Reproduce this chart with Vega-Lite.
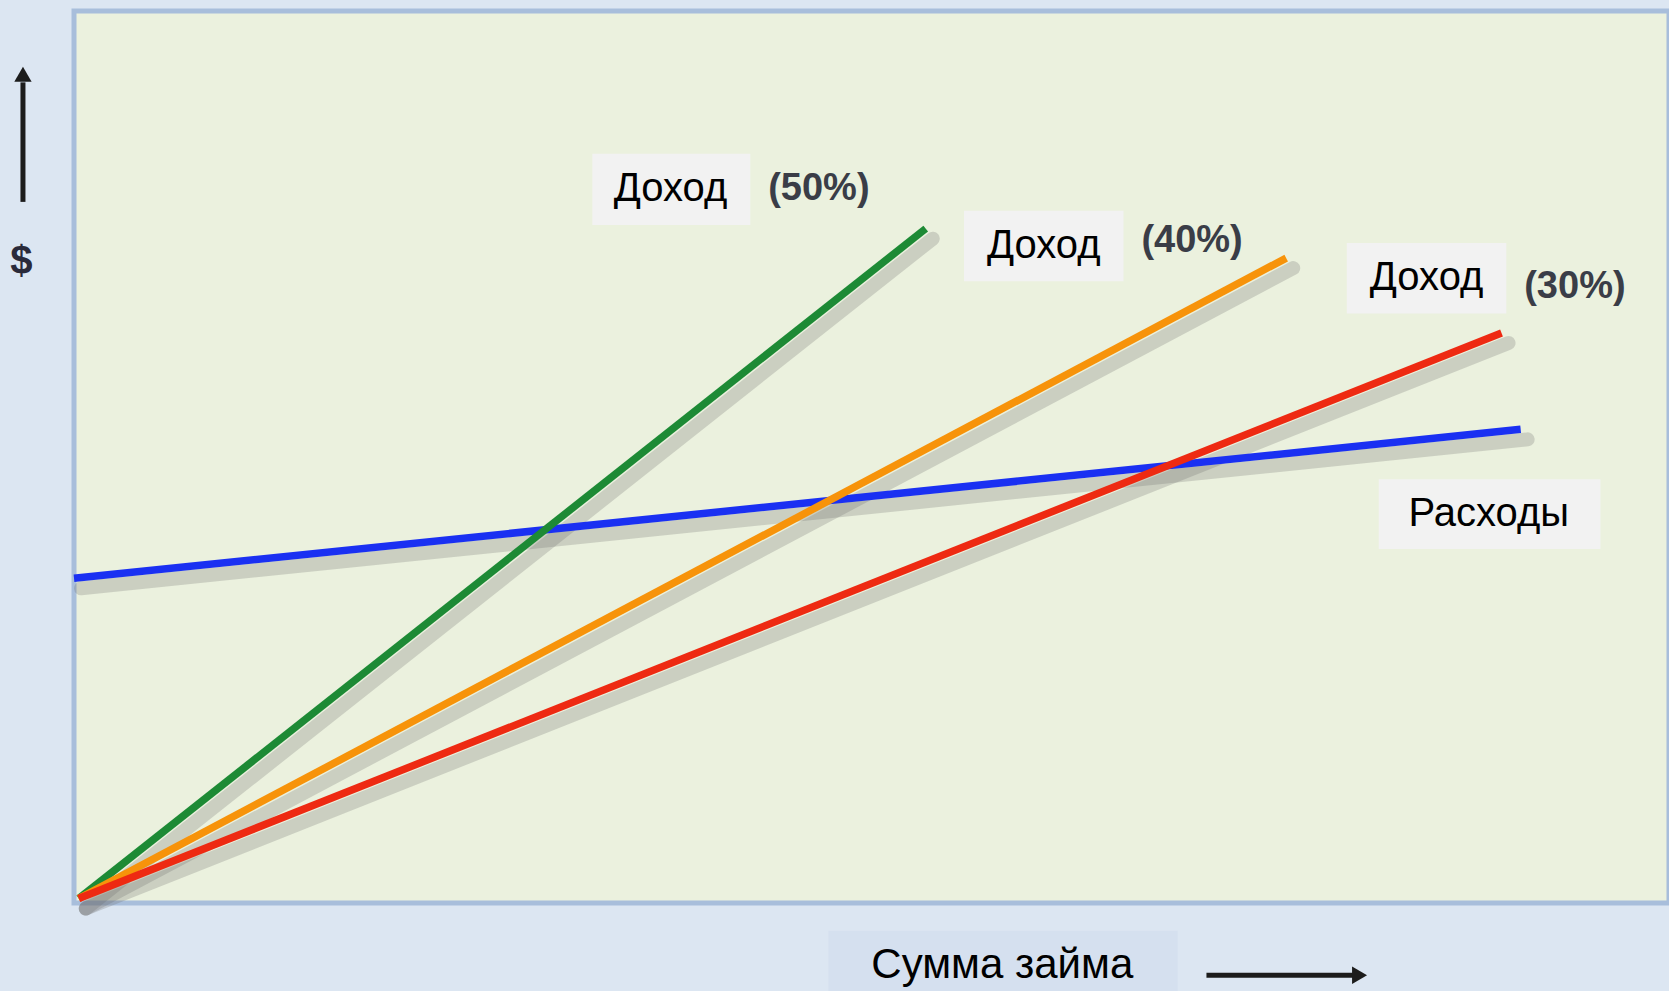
{
  "$schema": "https://vega.github.io/schema/vega-lite/v6.json",
  "width": 1595,
  "height": 892,
  "autosize": {"type": "none"},
  "padding": {"left": 74, "top": 11, "right": 0, "bottom": 88},
  "background": "#dce6f2",
  "view": {"fill": "#ebf1de", "stroke": "#a8bedb", "strokeWidth": 5},
  "datasets": {
    "lines": [
      {"series": "Расходы", "x": 0, "y": 36.4},
      {"series": "Расходы", "x": 90.7, "y": 53.1},
      {"series": "Доход (50%)", "x": 0.3, "y": 0.5},
      {"series": "Доход (50%)", "x": 53.4, "y": 75.6},
      {"series": "Доход (40%)", "x": 0.3, "y": 0.5},
      {"series": "Доход (40%)", "x": 76.0, "y": 72.3},
      {"series": "Доход (30%)", "x": 0.3, "y": 0.5},
      {"series": "Доход (30%)", "x": 89.5, "y": 63.9}
    ],
    "boxes": [
      {"label": "Доход", "x": 32.5, "x2": 42.4, "y": 84.0, "y2": 76.0, "tx": 37.4, "ty": 80.0, "fill": "#f2f2f2", "size": 40},
      {"label": "Доход", "x": 55.8, "x2": 65.8, "y": 77.6, "y2": 69.7, "tx": 60.8, "ty": 73.7, "fill": "#f2f2f2", "size": 40},
      {"label": "Доход", "x": 79.8, "x2": 89.8, "y": 74.0, "y2": 66.1, "tx": 84.8, "ty": 70.1, "fill": "#f2f2f2", "size": 40},
      {"label": "Расходы", "x": 81.8, "x2": 95.7, "y": 47.5, "y2": 39.7, "tx": 88.7, "ty": 43.6, "fill": "#f2f2f2", "size": 40},
      {"label": "Сумма займа", "x": 47.3, "x2": 69.2, "y": -3.1, "y2": -9.9, "tx": 58.2, "ty": -7.0, "fill": "#d5e0ef", "size": 42}
    ],
    "pct": [
      {"label": "(50%)", "x": 46.7, "y": 80.0},
      {"label": "(40%)", "x": 70.1, "y": 74.2},
      {"label": "(30%)", "x": 94.1, "y": 69.1}
    ],
    "arrows": [
      {"name": "y", "x": -3.2, "y": 78.6, "x2": -3.2, "y2": 92.0, "tipx": -3.2, "tipy": 92.9, "shape": "triangle-up"},
      {"name": "x", "x": 71.0, "y": -8.1, "x2": 80.2, "y2": -8.1, "tipx": 80.6, "tipy": -8.1, "shape": "triangle-right"}
    ],
    "dollar": [{"label": "$", "x": -3.3, "y": 71.9}]
  },
  "layer": [
    {
      "mark": {"type": "rule", "color": "#9da48a", "strokeWidth": 7, "opacity": 0.45, "yOffset": -5},
      "encoding": {
        "y": {"datum": 0, "type": "quantitative", "scale": {"domain": [0, 100], "nice": false, "zero": false}, "axis": null}
      }
    },
    {
      "data": {"name": "lines"},
      "mark": {"type": "line", "stroke": "#6b6b6b", "strokeWidth": 14, "opacity": 0.25, "xOffset": 7, "yOffset": 10, "strokeCap": "round"},
      "encoding": {
        "x": {"field": "x", "type": "quantitative", "scale": {"domain": [0, 100], "nice": false, "zero": false}, "axis": null},
        "y": {"field": "y", "type": "quantitative", "axis": null},
        "detail": {"field": "series"}
      }
    },
    {
      "data": {"name": "lines"},
      "mark": {"type": "line", "strokeWidth": 7.5, "strokeCap": "butt"},
      "encoding": {
        "x": {"field": "x", "type": "quantitative", "axis": null},
        "y": {"field": "y", "type": "quantitative", "axis": null},
        "color": {
          "field": "series",
          "type": "nominal",
          "scale": {"domain": ["Расходы", "Доход (50%)", "Доход (40%)", "Доход (30%)"], "range": ["#1a30f2", "#1d8a35", "#f7930a", "#ee2a12"]},
          "legend": null
        }
      }
    },
    {
      "data": {"name": "pct"},
      "mark": {"type": "text", "font": "Liberation Sans", "fontWeight": "bold", "fontSize": 38, "color": "#3a3d47"},
      "encoding": {
        "x": {"field": "x", "type": "quantitative", "axis": null},
        "y": {"field": "y", "type": "quantitative", "axis": null},
        "text": {"field": "label"}
      }
    },
    {
      "data": {"name": "boxes"},
      "mark": {"type": "rect"},
      "encoding": {
        "x": {"field": "x", "type": "quantitative", "axis": null},
        "x2": {"field": "x2"},
        "y": {"field": "y", "type": "quantitative", "axis": null},
        "y2": {"field": "y2"},
        "fill": {"field": "fill", "type": "nominal", "scale": null}
      }
    },
    {
      "data": {"name": "boxes"},
      "mark": {"type": "text", "font": "Liberation Sans", "color": "#000000", "baseline": "middle"},
      "encoding": {
        "x": {"field": "tx", "type": "quantitative", "axis": null},
        "y": {"field": "ty", "type": "quantitative", "axis": null},
        "text": {"field": "label"},
        "size": {"field": "size", "type": "quantitative", "scale": null}
      }
    },
    {
      "data": {"name": "arrows"},
      "mark": {"type": "rule", "color": "#1c1c1c", "strokeWidth": 5},
      "encoding": {
        "x": {"field": "x", "type": "quantitative", "axis": null},
        "x2": {"field": "x2"},
        "y": {"field": "y", "type": "quantitative", "axis": null},
        "y2": {"field": "y2"}
      }
    },
    {
      "data": {"name": "arrows"},
      "mark": {"type": "point", "filled": true, "color": "#1c1c1c", "size": 300, "opacity": 1},
      "encoding": {
        "x": {"field": "tipx", "type": "quantitative", "axis": null},
        "y": {"field": "tipy", "type": "quantitative", "axis": null},
        "shape": {"field": "shape", "type": "nominal", "scale": null}
      }
    },
    {
      "data": {"name": "dollar"},
      "mark": {"type": "text", "font": "Liberation Sans", "fontWeight": "bold", "fontSize": 40, "color": "#2a2a3a", "baseline": "middle"},
      "encoding": {
        "x": {"field": "x", "type": "quantitative", "axis": null},
        "y": {"field": "y", "type": "quantitative", "axis": null},
        "text": {"field": "label"}
      }
    }
  ]
}
